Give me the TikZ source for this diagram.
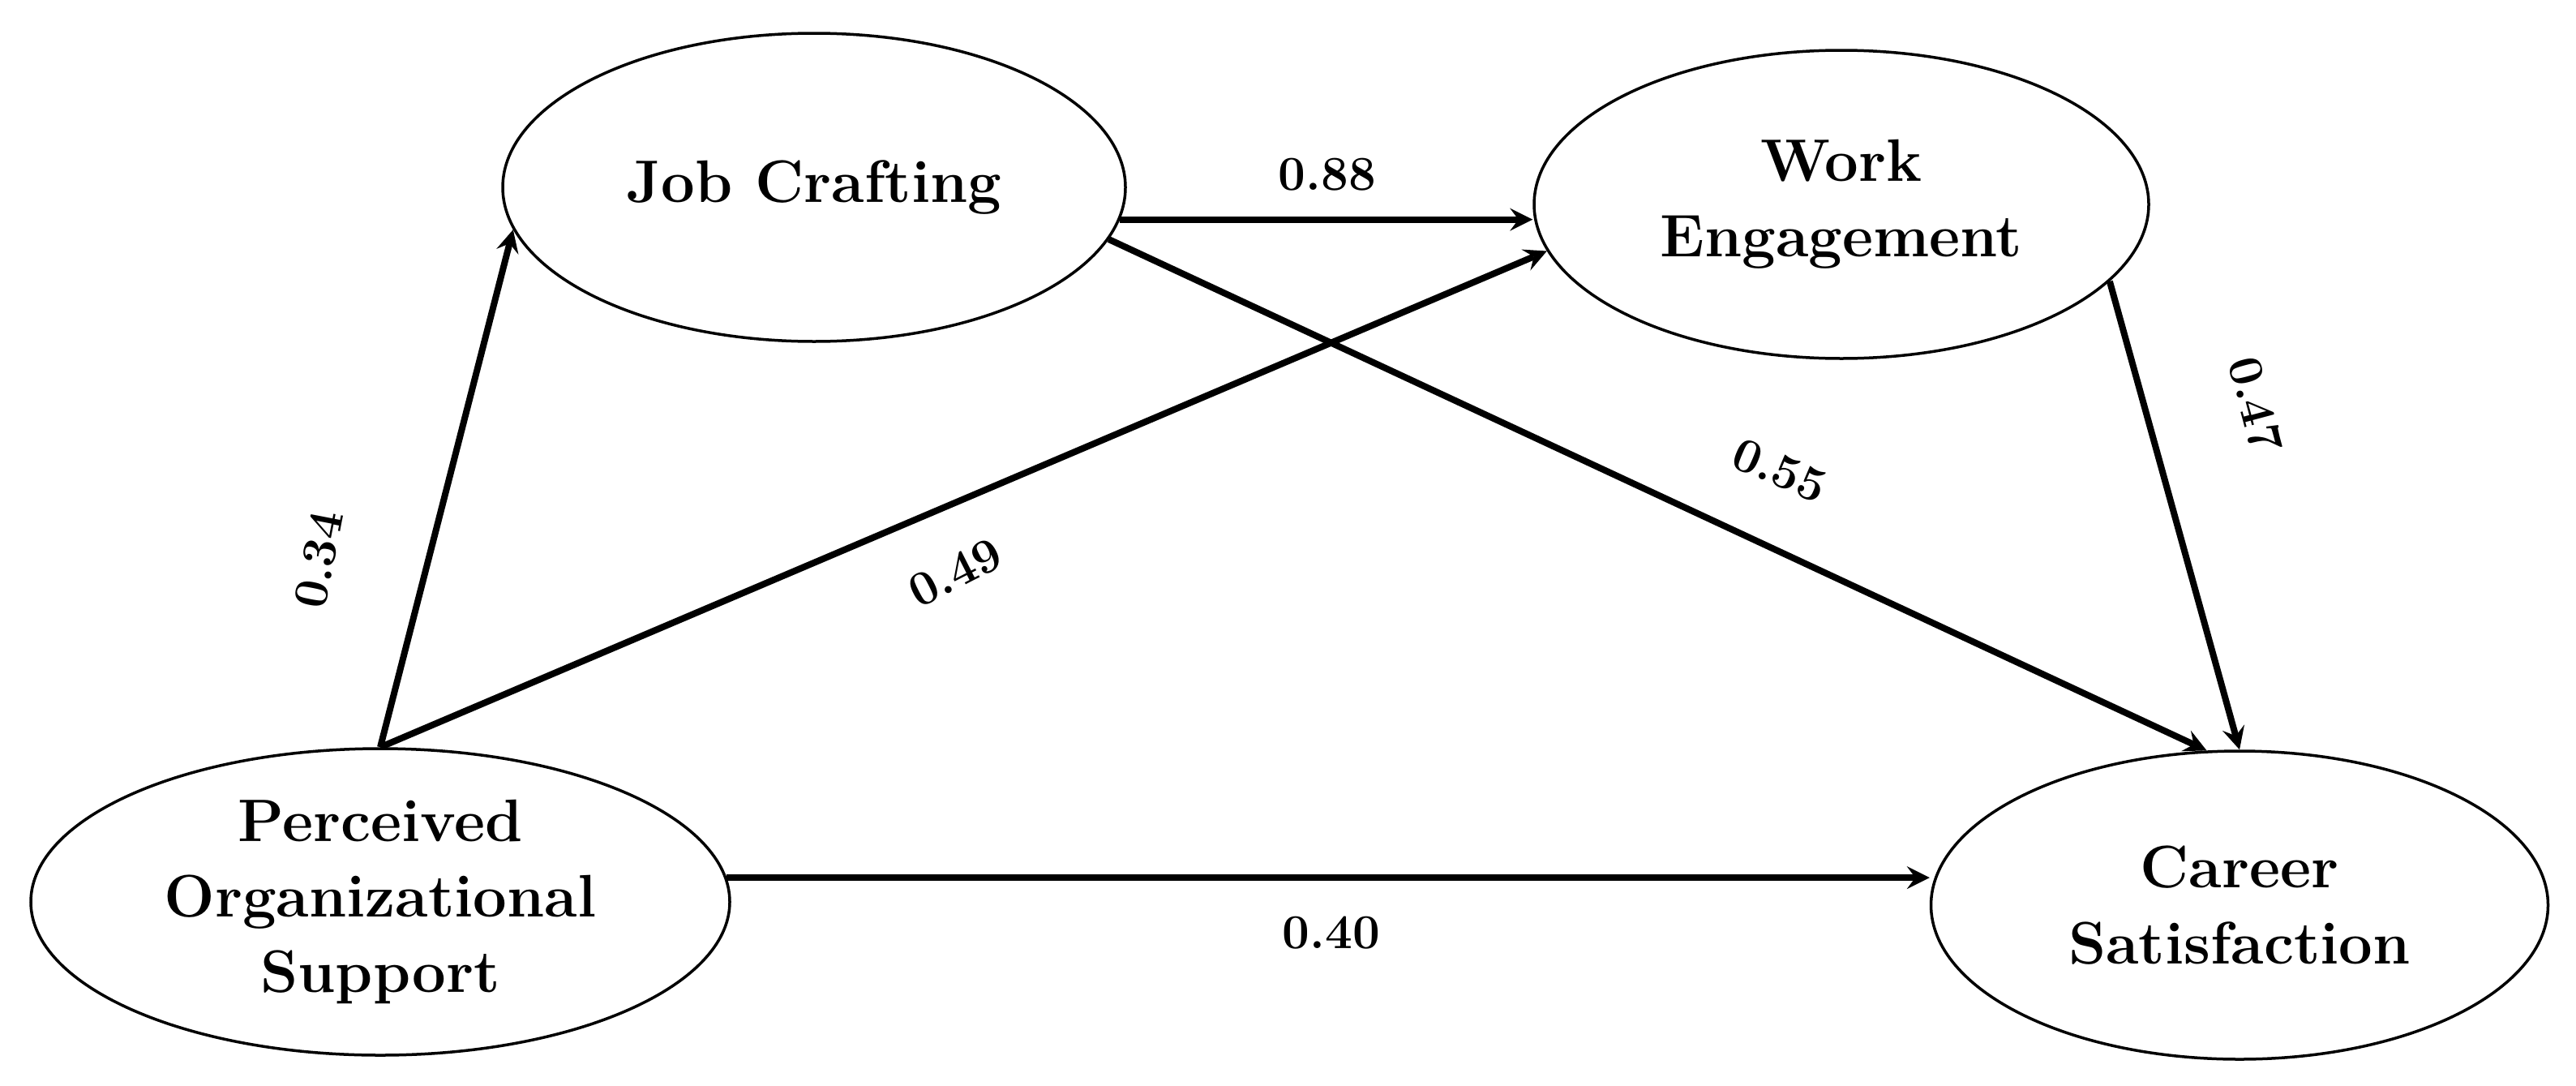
\documentclass[tikz,border=0pt]{standalone}
\usepackage{fontspec}
\usetikzlibrary{shapes.geometric}
\newlength{\du}
\setlength{\du}{0.25pt}
\tikzset{
  latent/.style={ellipse, draw=black, line width=3.5\du, fill=white, inner sep=0pt,
    align=center, font=\bfseries\fontsize{18.5}{23.3}\selectfont},
  effect/.style={-stealth, line width=8\du},
  coef/.style={inner sep=0pt, font=\bfseries\fontsize{15}{18}\selectfont},
}
\begin{document}
\begin{tikzpicture}
\pgftransformxscale{1.000000}
\pgftransformyscale{-1.000000}
\useasboundingbox (0\du,0\du) rectangle (3177\du,1338\du);
% latent variables
\node[latent, minimum width=768\du, minimum height=380\du] (jc) at (1004\du,231\du){Job Crafting};
\node[latent, minimum width=758\du, minimum height=380\du] (we) at (2271\du,252\du){Work\\Engagement};
\node[latent, minimum width=862\du, minimum height=378\du] (pos) at (469\du,1112\du){Perceived\\Organizational\\Support};
\node[latent, minimum width=761\du, minimum height=380\du] (cs) at (2762\du,1116\du){Career\\Satisfaction};
% paths
\draw[effect] (pos.north) -- (jc.188);
\draw[effect] (pos.north) -- (we.189);
\draw[effect] (jc.-6) -- (jc.-6 -| we.west);
\draw[effect] (jc.-10) -- (cs.102);
\draw[effect] (we.-16) -- (cs.north);
\draw[effect] (pos.4) -- (pos.4 -| cs.west);
% coefficients
\node[coef, rotate=79] (c34) at (393\du,690\du){0.34};
\node[coef, rotate=27] (c49) at (1178\du,706\du){0.49};
\node[coef] (c88) at (1637\du,215\du){0.88};
\node[coef, rotate=-23] (c55) at (2195\du,580\du){0.55};
\node[coef, rotate=-75] (c47) at (2782\du,499\du){0.47};
\node[coef] (c40) at (1642\du,1150\du){0.40};
\end{tikzpicture}
\end{document}
